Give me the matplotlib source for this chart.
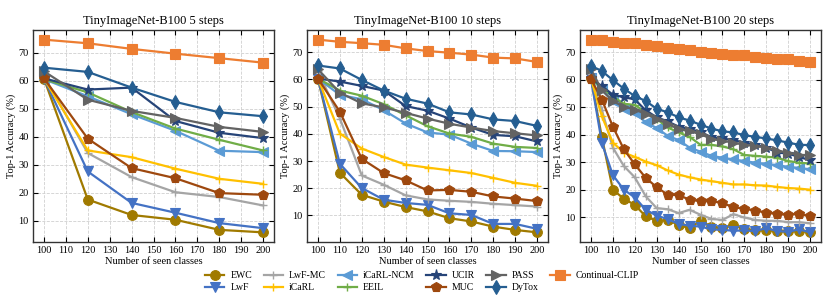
import matplotlib
matplotlib.use("Agg")
import matplotlib.pyplot as plt
import numpy as np

plt.rcParams['font.family'] = ['Liberation Serif', 'DejaVu Serif']
plt.rcParams['mathtext.fontset'] = 'stix'

methods = ["EWC", "LwF", "LwF-MC", "iCaRL", "iCaRL-NCM", "EEIL",
           "UCIR", "MUC", "PASS", "DyTox", "Continual-CLIP"]
colors = {"EWC": "#A07A00", "LwF": "#4472C4", "LwF-MC": "#A5A5A5",
          "iCaRL": "#FFC000", "iCaRL-NCM": "#5B9BD5", "EEIL": "#70AD47",
          "UCIR": "#264478", "MUC": "#9E480E", "PASS": "#636363",
          "DyTox": "#255E91", "Continual-CLIP": "#ED7D31"}
markers = {"EWC": "o", "LwF": "v", "LwF-MC": "+", "iCaRL": "+",
           "iCaRL-NCM": "<", "EEIL": "+", "UCIR": "*", "MUC": "p",
           "PASS": ">", "DyTox": "d", "Continual-CLIP": "s"}

titles = ["TinyImageNet-B100 5 steps", "TinyImageNet-B100 10 steps",
          "TinyImageNet-B100 20 steps"]

x5 = [100, 120, 140, 160, 180, 200]
x10 = [100, 110, 120, 130, 140, 150, 160, 170, 180, 190, 200]
x20 = list(range(100, 201, 5))

acc5 = {
    "EWC": [60.7, 17.6, 12.1, 10.4, 6.8, 5.9],
    "LwF": [60.7, 27.6, 16.4, 12.9, 9.2, 7.4],
    "LwF-MC": [61.5, 34.2, 25.6, 20.2, 18.5, 15.5],
    "iCaRL": [60.7, 35.1, 32.7, 28.6, 25.0, 23.2],
    "iCaRL-NCM": [60.5, 54.4, 48.0, 42.1, 35.0, 34.5],
    "EEIL": [60.5, 55.8, 48.8, 42.9, 38.9, 35.1],
    "UCIR": [60.8, 56.8, 57.5, 45.6, 41.4, 39.5],
    "MUC": [60.8, 39.3, 28.8, 25.2, 19.9, 19.3],
    "PASS": [63.3, 53.2, 49.2, 46.7, 43.5, 41.7],
    "DyTox": [64.6, 63.1, 57.5, 52.4, 48.7, 47.3],
    "Continual-CLIP": [74.6, 73.3, 71.3, 69.6, 68.0, 66.4],
}

acc10 = {
    "EWC": [60.3, 25.7, 17.6, 15.1, 13.1, 11.5, 9.0, 7.8, 5.9, 4.7, 3.8],
    "LwF": [60.3, 29.0, 20.1, 15.8, 14.6, 13.9, 10.8, 10.2, 6.9, 6.9, 5.1],
    "LwF-MC": [63.0, 45.6, 24.7, 21.3, 17.4, 15.9, 15.4, 15.0, 14.3, 13.8, 13.3],
    "iCaRL": [60.3, 40.1, 34.6, 31.5, 28.7, 27.6, 26.6, 25.6, 23.8, 22.0, 20.9],
    "iCaRL-NCM": [60.3, 54.3, 52.7, 48.7, 43.8, 40.5, 39.7, 36.4, 33.7, 33.6, 33.3],
    "EEIL": [60.3, 55.9, 54.0, 50.9, 46.8, 42.8, 40.1, 38.9, 36.4, 35.2, 34.8],
    "UCIR": [60.3, 59.2, 57.6, 55.9, 50.2, 48.5, 45.6, 42.3, 39.6, 39.1, 37.2],
    "MUC": [60.3, 48.1, 30.8, 25.6, 22.9, 19.2, 19.4, 18.7, 17.0, 16.2, 15.3],
    "PASS": [63.7, 55.1, 51.2, 49.7, 47.7, 45.6, 43.7, 42.3, 41.0, 40.2, 39.4],
    "DyTox": [65.1, 64.0, 59.8, 55.9, 52.9, 51.1, 47.9, 47.1, 45.3, 44.7, 42.9],
    "Continual-CLIP": [74.6, 73.8, 73.3, 72.7, 71.4, 70.4, 69.8, 69.1, 68.0, 67.7, 66.4],
}

acc20 = {
    "EWC": [60.5, 39.1, 20.1, 16.8, 14.6, 10.4, 8.8, 9.1, 7.3, 6.1, 8.8,
            6.7, 6.1, 7.3, 5.7, 5.3, 5.5, 5.1, 5.1, 5.1, 4.8],
    "LwF": [60.5, 37.0, 25.4, 20.1, 17.3, 12.8, 10.7, 9.4, 7.7, 7.0, 6.7,
            5.7, 5.5, 5.2, 5.3, 5.1, 6.1, 5.1, 4.8, 5.7, 4.6],
    "LwF-MC": [62.0, 48.9, 35.4, 28.7, 24.6, 17.7, 13.4, 13.0, 11.6, 12.8, 11.0,
               9.5, 9.1, 11.2, 10.0, 9.1, 8.8, 8.8, 8.3, 8.3, 7.9],
    "iCaRL": [60.5, 46.7, 37.2, 33.6, 32.0, 30.3, 29.0, 27.1, 25.6, 24.6, 23.8,
              23.2, 22.6, 22.0, 22.0, 21.7, 21.6, 21.1, 20.7, 20.5, 20.1],
    "iCaRL-NCM": [60.5, 56.5, 52.3, 49.5, 47.9, 44.6, 42.5, 39.7, 38.1, 35.4, 33.9,
                  32.4, 31.7, 31.1, 30.5, 29.9, 29.5, 29.0, 28.4, 28.0, 27.5],
    "EEIL": [60.5, 57.0, 54.0, 51.3, 50.9, 48.2, 45.8, 42.7, 40.9, 39.3, 36.4,
             36.4, 35.8, 34.8, 32.7, 32.4, 32.1, 31.7, 30.5, 29.9, 29.6],
    "UCIR": [60.5, 57.7, 54.6, 53.7, 52.9, 48.9, 46.4, 44.9, 43.0, 42.1, 41.1,
             39.1, 38.7, 38.1, 37.2, 36.4, 35.4, 33.6, 33.2, 32.0, 30.8],
    "MUC": [60.3, 52.8, 43.0, 34.8, 29.3, 24.4, 21.0, 18.3, 18.1, 16.5, 15.9,
            15.9, 15.3, 13.7, 13.2, 12.5, 11.8, 11.2, 11.0, 11.3, 10.4],
    "PASS": [63.8, 56.2, 52.2, 50.3, 49.2, 47.6, 45.8, 44.0, 42.1, 41.3, 40.3,
             38.5, 37.9, 37.2, 36.4, 36.0, 35.4, 34.2, 33.6, 32.7, 32.7],
    "DyTox": [65.1, 63.2, 59.9, 56.8, 54.1, 52.3, 49.5, 48.2, 46.4, 45.2, 43.7,
              42.3, 41.3, 40.9, 39.9, 39.3, 38.7, 38.0, 37.2, 36.4, 36.3],
    "Continual-CLIP": [74.6, 74.4, 73.8, 73.5, 73.3, 72.7, 72.4, 71.6, 71.2, 70.8, 70.2,
                       69.6, 69.4, 69.0, 68.9, 68.3, 67.9, 67.5, 67.5, 66.8, 66.4],
}

panels = [(x5, acc5), (x10, acc10), (x20, acc20)]

fig = plt.figure(figsize=(8.3, 3.02), dpi=100)
lefts = [33 / 830, 307 / 830, 580 / 830]
w = 241 / 830
bottom = 1 - 242 / 302
h = (242 - 30) / 302

handles = []
for i, (xs, acc) in enumerate(panels):
    ax = fig.add_axes([lefts[i], bottom, w, h])
    for m in methods:
        mk = markers[m]
        if mk == "+":
            ms, mew = 6, 1.0
        elif mk == "*":
            ms, mew = 8, 0.8
        else:
            ms, mew = 7, 0.8
        ln, = ax.plot(xs, acc[m], color=colors[m], marker=mk,
                      markersize=ms, linewidth=1.6, label=m,
                      markeredgewidth=mew)
        if i == 0:
            handles.append(ln)
    ax.set_title(titles[i], fontsize=9, pad=4)
    ax.set_xlabel("Number of seen classes", fontsize=7.5, labelpad=1)
    ax.set_ylabel("Top-1 Accuracy (%)", fontsize=7.5, labelpad=2)
    ax.set_xticks(range(100, 201, 10))
    ax.set_yticks([10, 20, 30, 40, 50, 60, 70])
    ax.set_xlim(95, 205)
    ax.tick_params(direction="in", top=True, right=True, labelsize=7.5,
                   length=3.5, width=0.8, pad=3)
    ax.grid(True, linestyle="--", color="#d0d0d0", linewidth=0.6)
    ax.set_axisbelow(True)
    for s in ax.spines.values():
        s.set_linewidth(1.0)
        s.set_color("#333333")

fig.legend(handles=handles, labels=methods, ncol=6, loc="upper left",
           bbox_to_anchor=(205 / 830, 1 - 271 / 302), frameon=False,
           fontsize=7, handlelength=2.0, columnspacing=1.2,
           labelspacing=0.35, handletextpad=0.6, borderaxespad=0,
           borderpad=0)

fig.savefig("out.png", dpi=100)
